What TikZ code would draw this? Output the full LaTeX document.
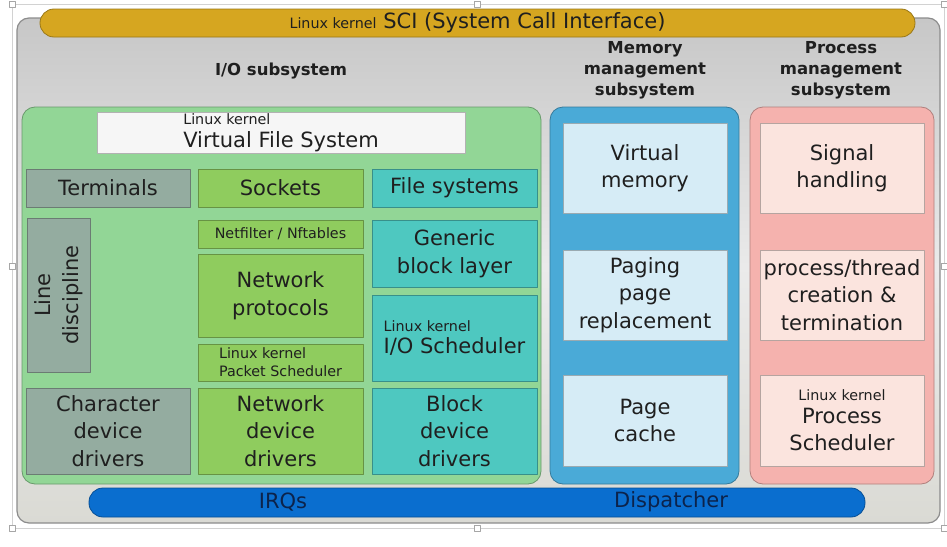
\documentclass[tikz,border=0pt]{standalone}
\usepackage{fontspec}
\setmainfont{DejaVu Sans}

\definecolor{scigold}{RGB}{214,166,32}
\definecolor{kgray}{RGB}{218,218,212}
\definecolor{iogreen}{RGB}{146,214,150}
\definecolor{termgray}{RGB}{148,172,160}
\definecolor{netgreen}{RGB}{143,204,94}
\definecolor{blkteal}{RGB}{78,200,192}
\definecolor{memblue}{RGB}{74,170,215}
\definecolor{memlight}{RGB}{214,236,246}
\definecolor{procpink}{RGB}{245,178,174}
\definecolor{proclight}{RGB}{251,228,222}
\definecolor{irqblue}{RGB}{10,110,207}
\definecolor{irqtext}{RGB}{12,35,75}
\definecolor{vfswhite}{RGB}{246,246,246}

\newcommand{\sm}{\fontsize{14.3}{17}\selectfont}

\tikzset{
  box/.style={draw=#1!72!black, fill=#1, line width=0.8pt, inner sep=0pt,
    align=center, text=black!88},
  sz/.style 2 args={minimum width=#1, minimum height=#2},
  panel/.style={box=#1, rounded corners=13pt},
  head/.style={font=\bfseries\fontsize{16.5}{21}\selectfont, align=center,
    text=black!88, inner sep=0pt},
}

\begin{document}
\begin{tikzpicture}[x=1pt, y=-1pt, font=\fontsize{21}{27.5}\selectfont, line join=round]
  \useasboundingbox (0,0) rectangle (947,546);

  % selection frame of the slide
  \draw[gray!35, line width=0.6pt] (12,4) rectangle (944,528);
  \foreach \hx/\hy in {12/4, 477/4, 944/4, 12/266, 944/266, 12/528, 477/528, 944/528} {
    \draw[gray!70, fill=white, line width=0.5pt] (\hx-3,\hy-3) rectangle (\hx+3,\hy+3);
  }

  % kernel frame
  \node[draw=black!45, line width=1.2pt, rounded corners=12pt, top color=black!22,
    bottom color=kgray, middle color=black!8, sz={923pt}{505pt}] (kernel) at (478.5,270.5) {};

  % system call interface
  \node[box=scigold, rounded corners=14pt, sz={875pt}{28pt}] (sci) at (477.5,23)
    {{\sm Linux kernel} SCI (System Call Interface)};

  % subsystem titles
  \node[head] (iohead) at (281,71) {I/O subsystem};
  \node[head] (memhead) at (645,70) {Memory\\management\\subsystem};
  \node[head] (prochead) at (841,70) {Process\\management\\subsystem};

  % I/O subsystem
  \node[panel=iogreen, sz={519pt}{377pt}] (io) at (281.5,295.5) {};
  \node[box=vfswhite, draw=black!30, sz={368pt}{41pt}, align=left] (vfs) at (281,132.5)
    {{\sm Linux kernel}\\[-5pt]Virtual File System};

  \node[box=termgray, sz={164pt}{38pt}] (term) at (108,188) {Terminals};
  \node[box=netgreen, sz={165pt}{38pt}] (sock) at (280.5,188) {Sockets};
  \node[box=blkteal, sz={165pt}{38pt}] (fs) at (454.5,188) {File systems};

  \node[box=termgray, sz={154pt}{63pt}, rotate=90] (ldisc) at (58.5,295) {Line\\discipline};

  \node[box=netgreen, sz={165pt}{28pt}, font=\sm] (nf) at (280.5,234) {Netfilter / Nftables};
  \node[box=netgreen, sz={165pt}{83pt}] (proto) at (280.5,295.5) {Network\\protocols};
  \node[box=netgreen, sz={165pt}{37pt}, font=\sm, align=left] (pktsched) at (280.5,362.5)
    {Linux kernel\\[1pt]Packet Scheduler};

  \node[box=blkteal, sz={165pt}{67pt}] (gbl) at (454.5,253.5) {Generic\\block layer};
  \node[box=blkteal, sz={165pt}{86pt}, align=left] (iosched) at (454.5,338)
    {{\sm Linux kernel}\\[-5pt]I/O Scheduler};

  \node[box=termgray, sz={164pt}{86pt}] (chardrv) at (108,431) {Character\\device\\drivers};
  \node[box=netgreen, sz={165pt}{86pt}] (netdrv) at (280.5,431) {Network\\device\\drivers};
  \node[box=blkteal, sz={165pt}{86pt}] (blkdrv) at (454.5,431) {Block\\device\\drivers};

  % memory management
  \node[panel=memblue, sz={189pt}{377pt}] (mem) at (644.5,295.5) {};
  \node[box=memlight, sz={164pt}{90pt}] (vmem) at (645,168) {Virtual\\memory};
  \node[box=memlight, sz={164pt}{90pt}] (paging) at (645,295) {Paging\\page\\replacement};
  \node[box=memlight, sz={164pt}{91pt}] (pcache) at (645,420.5) {Page\\cache};

  % process management
  \node[panel=procpink, sz={184pt}{377pt}] (proc) at (842,295.5) {};
  \node[box=proclight, sz={164pt}{90pt}] (signal) at (842,168) {Signal\\handling};
  \node[box=proclight, sz={164pt}{90pt}] (thread) at (842,295) {process/thread\\creation \&\\termination};
  \node[box=proclight, sz={164pt}{91pt}] (psched) at (842,420.5)
    {{\sm Linux kernel}\\[-5pt]Process\\Scheduler};

  % interrupts
  \node[box=irqblue, rounded corners=14pt, sz={776pt}{29pt}] (irq) at (477,502.5) {};
  \node[text=irqtext, inner sep=0pt] (irqs) at (283,502) {IRQs};
  \node[text=irqtext, inner sep=0pt] (disp) at (671,502) {Dispatcher};
\end{tikzpicture}
\end{document}
